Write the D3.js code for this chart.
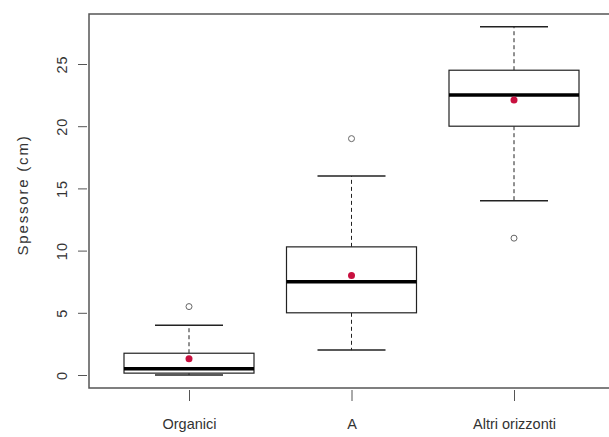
<!DOCTYPE html>
<html lang="en">
<head>
    <meta charset="UTF-8">
    <title>boxplot spessore</title>
    <style>
        body { margin: 0; background-color: #fff; }
        svg { display: block; }
        .tick text { font-family: "Liberation Sans", Arial, sans-serif; font-size: 14.5px; fill: #333; }
        .ylab { font-family: "Liberation Sans", Arial, sans-serif; font-size: 15px; fill: #333; letter-spacing: 1.8px; }
    </style>
</head>
<body>
<script src="https://d3js.org/d3.v7.min.js"></script>
<script>
    // data
    var categories = ["Organici", "A", "Altri orizzonti"];
    var whiskerLow = [0, 2, 14];
    var q1 = [0.15, 5, 20];
    var median = [0.5, 7.5, 22.5];
    var q3 = [1.75, 10.3, 24.5];
    var whiskerHigh = [4, 16, 28];
    var means = [1.3, 8, 22.1];
    var outliers = [[5.5], [19], [11]];
    var yTicks = [0, 5, 10, 15, 20, 25];

    var W = 609, H = 437;
    var mLeft = 89, mTop = 14, mRight = 612, mBottom = 388;

    var svg = d3.select("body").append("svg")
        .attr("width", W)
        .attr("height", H);

    var x = d3.scalePoint()
        .domain(categories)
        .range([189, 514]);

    var y = d3.scaleLinear()
        .domain([0, 25])
        .range([375, 64]);

    var boxHalf = 65, capHalf = 34;

    // frame
    svg.append("rect")
        .attr("x", mLeft)
        .attr("y", mTop)
        .attr("width", mRight - mLeft)
        .attr("height", mBottom - mTop)
        .attr("fill", "none")
        .attr("stroke", "#555")
        .attr("stroke-width", 1.5);

    // y axis
    var yAxis = svg.append("g")
        .attr("transform", "translate(" + (mLeft - 2) + ",0)")
        .call(d3.axisLeft(y).tickValues(yTicks).tickSize(9).tickSizeOuter(0).tickPadding(8));
    yAxis.select(".domain").remove();
    yAxis.selectAll(".tick line").attr("stroke", "#555");
    yAxis.selectAll(".tick text")
        .attr("transform", "rotate(-90)")
        .attr("x", 0)
        .attr("y", -25)
        .attr("dy", "0.35em")
        .attr("text-anchor", "middle")
        .style("letter-spacing", "1px");

    // x axis
    var xAxis = svg.append("g")
        .attr("transform", "translate(0," + (mBottom + 2) + ")")
        .call(d3.axisBottom(x).tickSize(11).tickSizeOuter(0).tickPadding(18));
    xAxis.select(".domain").remove();
    xAxis.selectAll(".tick line").attr("stroke", "#555");

    svg.append("text")
        .attr("class", "ylab")
        .attr("transform", "translate(23,195) rotate(-90)")
        .attr("dy", "0.35em")
        .attr("text-anchor", "middle")
        .text("Spessore (cm)");

    var g = svg.append("g");

    categories.forEach(function (c, i) {
        var cx = x(c);

        // whiskers
        g.append("line")
            .attr("x1", cx).attr("x2", cx)
            .attr("y1", y(q3[i])).attr("y2", y(whiskerHigh[i]))
            .attr("stroke", "#222").attr("stroke-dasharray", "4,3");
        g.append("line")
            .attr("x1", cx).attr("x2", cx)
            .attr("y1", y(q1[i])).attr("y2", y(whiskerLow[i]))
            .attr("stroke", "#222").attr("stroke-dasharray", "4,3");

        [whiskerLow[i], whiskerHigh[i]].forEach(function (v) {
            g.append("line")
                .attr("x1", cx - capHalf).attr("x2", cx + capHalf)
                .attr("y1", y(v)).attr("y2", y(v))
                .attr("stroke", "#222").attr("stroke-width", 1.5);
        });

        // box
        g.append("rect")
            .attr("x", cx - boxHalf)
            .attr("y", y(q3[i]))
            .attr("width", boxHalf * 2)
            .attr("height", y(q1[i]) - y(q3[i]))
            .attr("fill", "#fff")
            .attr("stroke", "#222")
            .attr("stroke-width", 1.2);

        // median
        g.append("line")
            .attr("x1", cx - boxHalf).attr("x2", cx + boxHalf)
            .attr("y1", y(median[i])).attr("y2", y(median[i]))
            .attr("stroke", "#000").attr("stroke-width", 3.5);

        // outliers
        outliers[i].forEach(function (v) {
            g.append("circle")
                .attr("cx", cx).attr("cy", y(v)).attr("r", 3)
                .attr("fill", "none").attr("stroke", "#666").attr("stroke-width", 1);
        });

        // mean
        g.append("circle")
            .attr("cx", cx).attr("cy", y(means[i])).attr("r", 3.5)
            .attr("fill", "#c8103f");
    });
</script>
</body>
</html>
